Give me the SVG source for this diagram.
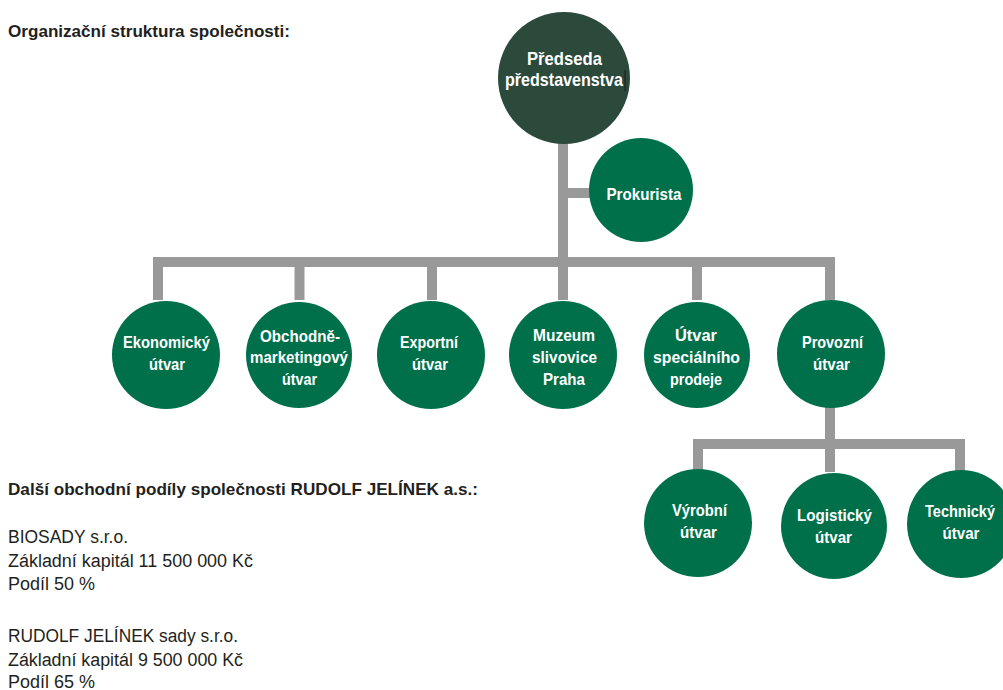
<svg xmlns="http://www.w3.org/2000/svg" width="1003" height="690" viewBox="0 0 1003 690">
  <style>
    .hd { font-family: "Liberation Sans", Arial, sans-serif; font-weight: bold; font-size: 17px; fill: #231f20; }
    .tx { font-family: "Liberation Sans", Arial, sans-serif; font-size: 18px; fill: #231f20; }
    .lb { font-family: "Liberation Sans", Arial, sans-serif; font-weight: bold; font-size: 17px; fill: #ffffff; text-anchor: middle; }
    .big { font-size: 18.5px; }
    .g { fill: #00704a; }
    .d { fill: #2c4a3c; }
    .c { fill: none; stroke: #999999; stroke-width: 10; }
  </style>
  <rect width="1003" height="690" fill="#ffffff"/>
  <text class="hd" x="8" y="37" textLength="282" lengthAdjust="spacingAndGlyphs">Organizační struktura společnosti:</text>

  <g id="connectors">
    <path class="c" d="M563 140 V262"/>
    <path class="c" d="M563 193 H600"/>
    <path class="c" d="M158 300 V262 H830 V300"/>
    <path class="c" d="M299.5 300 V262"/>
    <path class="c" d="M432 300 V262"/>
    <path class="c" d="M563 300 V262"/>
    <path class="c" d="M697 300 V262"/>
    <path class="c" d="M830 405 V444"/>
    <path class="c" d="M698 472 V444 H960 V472"/>
    <path class="c" d="M830 472 V444"/>
  </g>

  <g id="predseda">
    <circle class="d" cx="564" cy="78" r="66"/>
    <text class="lb big" x="564.5" y="65" textLength="75" lengthAdjust="spacingAndGlyphs">Předseda</text>
    <text class="lb big" x="564" y="86" textLength="118" lengthAdjust="spacingAndGlyphs">představenstva</text>
    <rect x="624.5" y="70" width="1.2" height="21" fill="#231f20"/>
  </g>
  <g id="prokurista">
    <circle class="g" cx="641" cy="190" r="52"/>
    <text class="lb" x="644" y="200" textLength="75" lengthAdjust="spacingAndGlyphs">Prokurista</text>
  </g>
  <g id="ekonomicky">
    <circle class="g" cx="166" cy="355" r="54"/>
    <text class="lb" x="166.5" y="348" textLength="87" lengthAdjust="spacingAndGlyphs">Ekonomický</text>
    <text class="lb" x="167" y="370" textLength="36" lengthAdjust="spacingAndGlyphs">útvar</text>
  </g>
  <g id="obchodne">
    <circle class="g" cx="299" cy="355" r="53"/>
    <text class="lb" x="300" y="342" textLength="80" lengthAdjust="spacingAndGlyphs">Obchodně-</text>
    <text class="lb" x="299" y="363" textLength="98" lengthAdjust="spacingAndGlyphs">marketingový</text>
    <text class="lb" x="299.5" y="385" textLength="35" lengthAdjust="spacingAndGlyphs">útvar</text>
  </g>
  <g id="exportni">
    <circle class="g" cx="431" cy="355" r="54"/>
    <text class="lb" x="429" y="348" textLength="58" lengthAdjust="spacingAndGlyphs">Exportní</text>
    <text class="lb" x="430" y="370" textLength="36" lengthAdjust="spacingAndGlyphs">útvar</text>
  </g>
  <g id="muzeum">
    <circle class="g" cx="563" cy="355" r="54"/>
    <text class="lb" x="564" y="341" textLength="62" lengthAdjust="spacingAndGlyphs">Muzeum</text>
    <text class="lb" x="564.5" y="363" textLength="65" lengthAdjust="spacingAndGlyphs">slivovice</text>
    <text class="lb" x="564" y="385" textLength="42" lengthAdjust="spacingAndGlyphs">Praha</text>
  </g>
  <g id="specialni">
    <circle class="g" cx="697" cy="355" r="53"/>
    <text class="lb" x="696" y="341" textLength="42" lengthAdjust="spacingAndGlyphs">Útvar</text>
    <text class="lb" x="696.5" y="363" textLength="87" lengthAdjust="spacingAndGlyphs">speciálního</text>
    <text class="lb" x="696" y="385" textLength="52" lengthAdjust="spacingAndGlyphs">prodeje</text>
  </g>
  <g id="provozni">
    <circle class="g" cx="831" cy="354" r="54"/>
    <text class="lb" x="832.5" y="348" textLength="61" lengthAdjust="spacingAndGlyphs">Provozní</text>
    <text class="lb" x="831.5" y="370" textLength="37" lengthAdjust="spacingAndGlyphs">útvar</text>
  </g>
  <g id="vyrobni">
    <circle class="g" cx="698" cy="523" r="54"/>
    <text class="lb" x="699.5" y="516" textLength="55" lengthAdjust="spacingAndGlyphs">Výrobní</text>
    <text class="lb" x="698.5" y="538" textLength="37" lengthAdjust="spacingAndGlyphs">útvar</text>
  </g>
  <g id="logisticky">
    <circle class="g" cx="834" cy="526" r="53"/>
    <text class="lb" x="834.5" y="521" textLength="75" lengthAdjust="spacingAndGlyphs">Logistický</text>
    <text class="lb" x="833.5" y="543" textLength="37" lengthAdjust="spacingAndGlyphs">útvar</text>
  </g>
  <g id="technicky">
    <circle class="g" cx="961" cy="524" r="54"/>
    <text class="lb" x="960" y="517" textLength="70" lengthAdjust="spacingAndGlyphs">Technický</text>
    <text class="lb" x="961" y="539" textLength="37" lengthAdjust="spacingAndGlyphs">útvar</text>
  </g>

  <text class="hd" x="8" y="495" textLength="470" lengthAdjust="spacingAndGlyphs">Další obchodní podíly společnosti RUDOLF JELÍNEK a.s.:</text>
  <text class="tx" x="8" y="543" textLength="120" lengthAdjust="spacingAndGlyphs">BIOSADY s.r.o.</text>
  <text class="tx" x="8" y="567" textLength="245" lengthAdjust="spacingAndGlyphs">Základní kapitál 11 500 000 Kč</text>
  <text class="tx" x="8" y="590" textLength="87" lengthAdjust="spacingAndGlyphs">Podíl 50 %</text>
  <text class="tx" x="8" y="642" textLength="230" lengthAdjust="spacingAndGlyphs">RUDOLF JELÍNEK sady s.r.o.</text>
  <text class="tx" x="8" y="666" textLength="235" lengthAdjust="spacingAndGlyphs">Základní kapitál 9 500 000 Kč</text>
  <text class="tx" x="8" y="688" textLength="87" lengthAdjust="spacingAndGlyphs">Podíl 65 %</text>
</svg>
